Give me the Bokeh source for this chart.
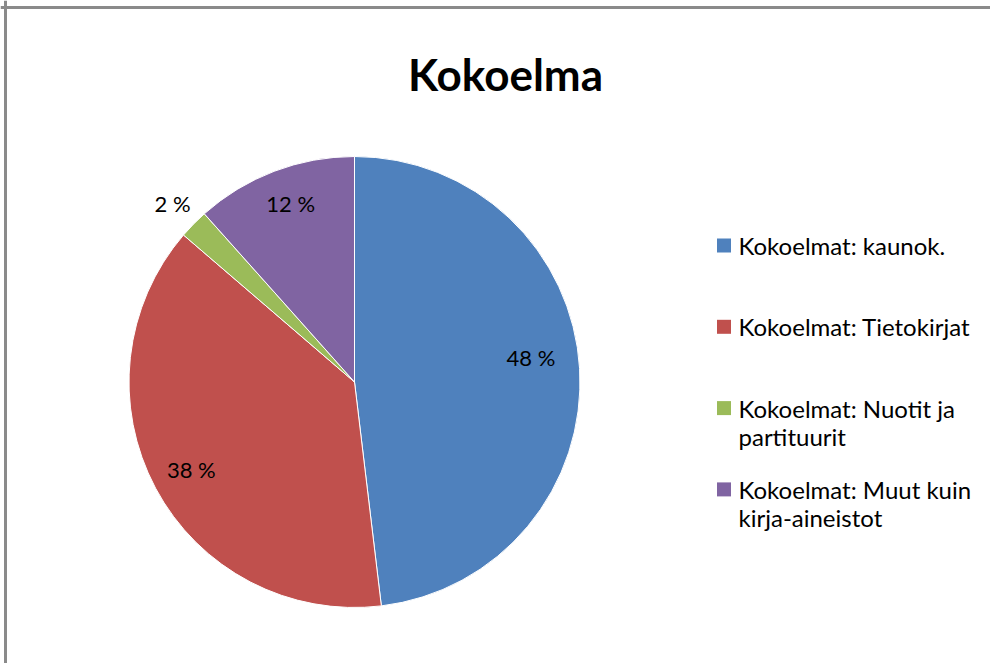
import math
from bokeh.plotting import figure
from bokeh.models import Range1d, Span
from bokeh.core.properties import value
from bokeh.embed import file_html
from bokeh.resources import INLINE

# ---- data ----
title_text = "Kokoelma"
categories = [
    "Kokoelmat: kaunok.",
    "Kokoelmat: Tietokirjat",
    "Kokoelmat: Nuotit ja\npartituurit",
    "Kokoelmat: Muut kuin\nkirja-aineistot",
]
values = [48.1, 38.2, 2.1, 11.6]
colors = ["#4F81BD", "#C0504D", "#9BBB59", "#8064A2"]

# ---- style / layout ----
W, H = 990, 663
FONT = "Lato"
cx, cy, R = 354, 281.5, 225.5
label_r_frac = [0.79, 0.82, 1.13, 0.84]
label_angle_adj = [4.5, 0.0, 0.0, -1.2]

p = figure(width=W, height=H, x_range=Range1d(0, W), y_range=Range1d(0, H),
           output_backend="svg", toolbar_location=None, min_border=0)
p.axis.visible = False
p.grid.visible = False
p.outline_line_color = None
p.background_fill_color = "white"
p.border_fill_color = "white"

total = sum(values)
starts, ends, lx, ly, labels = [], [], [], [], []
cum = 0.0
for i, v in enumerate(values):
    s = math.pi / 2 - 2 * math.pi * cum / total
    e = s - 2 * math.pi * v / total
    starts.append(s)
    ends.append(e)
    mid = (s + e) / 2 + math.radians(label_angle_adj[i])
    r = R * label_r_frac[i]
    lx.append(cx + r * math.cos(mid))
    ly.append(cy + r * math.sin(mid))
    labels.append(f"{round(100 * v / total)} %")
    cum += v

p.wedge(x=cx, y=cy, radius=R, start_angle=starts, end_angle=ends,
        direction="clock", fill_color=colors, line_color="white", line_width=1)

p.text(x=lx, y=ly, text=labels, text_font=value(FONT), text_font_size="22px",
       text_color="#000000", text_align="center", text_baseline="middle")

# title
p.text(x=[505], y=[590], text=[title_text], text_font=value(FONT),
       text_font_size="44px", text_font_style="bold", text_color="#000000",
       text_align="center", text_baseline="alphabetic")

# legend (manual)
leg_sq_x = 723.5
leg_txt_x = 738
leg_y0 = 418
leg_step = 81.3
line_gap = 28.5
sq_x, sq_y, t_x, t_y, t_s = [], [], [], [], []
for i, lab in enumerate(categories):
    yi = leg_y0 - i * leg_step
    sq_x.append(leg_sq_x)
    sq_y.append(yi)
    for j, line in enumerate(lab.split("\n")):
        t_x.append(leg_txt_x)
        t_y.append(yi - j * line_gap)
        t_s.append(line)
p.rect(x=sq_x, y=sq_y, width=14, height=14, fill_color=colors, line_color=None)
p.text(x=t_x, y=t_y, text=t_s, text_font=value(FONT), text_font_size="24px",
       text_color="#000000", text_align="left", text_baseline="middle")

# chart-area border (top and left visible)
p.add_layout(Span(location=5, dimension="height", line_color="#8A8A8A", line_width=3))
p.add_layout(Span(location=H - 7, dimension="width", line_color="#8A8A8A", line_width=3))

open("out.html", "w").write(file_html(p, INLINE))
